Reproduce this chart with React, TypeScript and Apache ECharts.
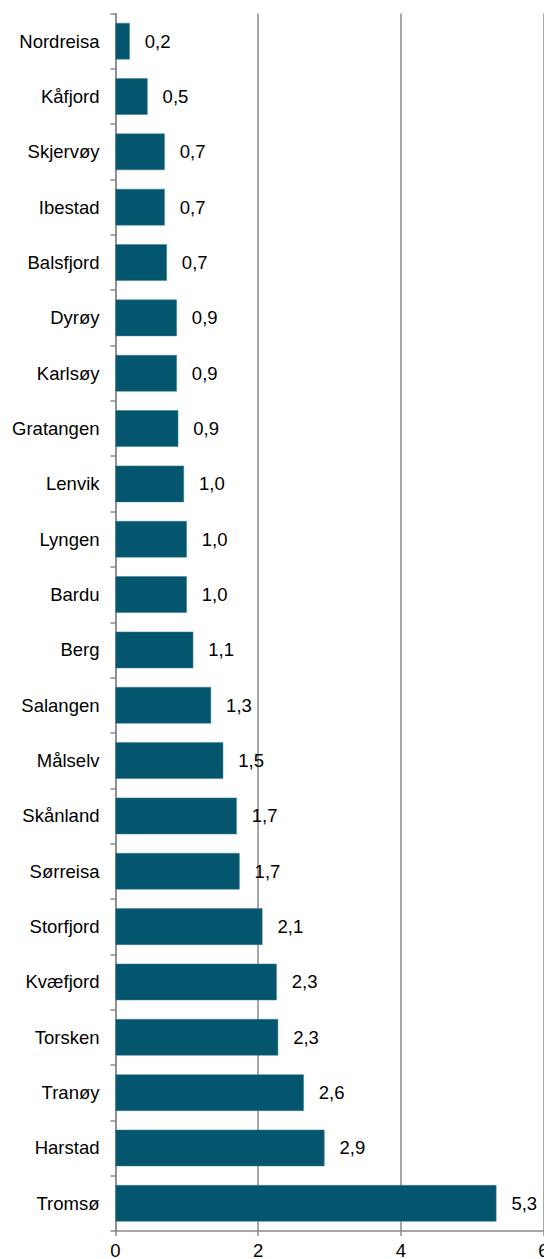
import React, { useEffect, useRef } from "react";
import * as echarts from "echarts";

const categories = [
  "Nordreisa", "Kåfjord", "Skjervøy", "Ibestad", "Balsfjord", "Dyrøy", "Karlsøy",
  "Gratangen", "Lenvik", "Lyngen", "Bardu", "Berg", "Salangen", "Målselv",
  "Skånland", "Sørreisa", "Storfjord", "Kvæfjord", "Torsken", "Tranøy", "Harstad", "Tromsø",
];
const values = [
  0.2, 0.45, 0.69, 0.69, 0.72, 0.86, 0.86,
  0.88, 0.96, 1.0, 1.0, 1.09, 1.34, 1.51,
  1.7, 1.74, 2.06, 2.26, 2.28, 2.64, 2.93, 5.34,
];
const xTicks = [0, 2, 4, 6];

const FONT = "Liberation Sans, Arial, sans-serif";
const GRAY = "#8a8a8a";

export default function App() {
  const ref = useRef<HTMLDivElement>(null);
  useEffect(() => {
    if (!ref.current) return;
    const chart = echarts.init(ref.current, null, { renderer: "svg" });
    chart.setOption({
      animation: false,
      backgroundColor: "#ffffff",
      grid: {
        left: 115.5,
        top: 13.5,
        width: 428,
        height: 1217.5,
        containLabel: false,
        outerBoundsMode: "none",
      },
      xAxis: {
        type: "value",
        min: xTicks[0],
        max: xTicks[xTicks.length - 1],
        interval: 2,
        axisLine: { show: true, lineStyle: { color: GRAY, width: 1.5 } },
        axisTick: { show: true, length: 5, lineStyle: { color: GRAY, width: 1.5 } },
        splitLine: { show: true, lineStyle: { color: GRAY, width: 1.5 } },
        axisLabel: {
          color: "#000",
          fontFamily: FONT,
          fontSize: 18.5,
          margin: 10,
          formatter: (v: number) => String(v),
        },
      },
      yAxis: {
        type: "category",
        data: categories,
        inverse: true,
        axisLine: { show: true, lineStyle: { color: GRAY, width: 1.5 } },
        axisTick: { show: true, length: 5, lineStyle: { color: GRAY, width: 1.5 } },
        axisLabel: { color: "#000", fontFamily: FONT, fontSize: 18.5, margin: 16 },
      },
      series: [
        {
          type: "bar",
          data: values,
          barCategoryGap: "34%",
          itemStyle: { color: "#03566e", borderColor: "#3d7d92", borderWidth: 0.5 },
          label: {
            show: true,
            position: "right",
            distance: 15,
            color: "#000",
            fontFamily: FONT,
            fontSize: 18.5,
            formatter: (p: any) => p.value.toFixed(1).replace(".", ","),
          },
        },
      ],
    });
    return () => chart.dispose();
  }, []);
  return (
    <div
      ref={ref}
      style={{ position: "absolute", left: 0, top: 0, width: 544, height: 1259 }}
    />
  );
}
